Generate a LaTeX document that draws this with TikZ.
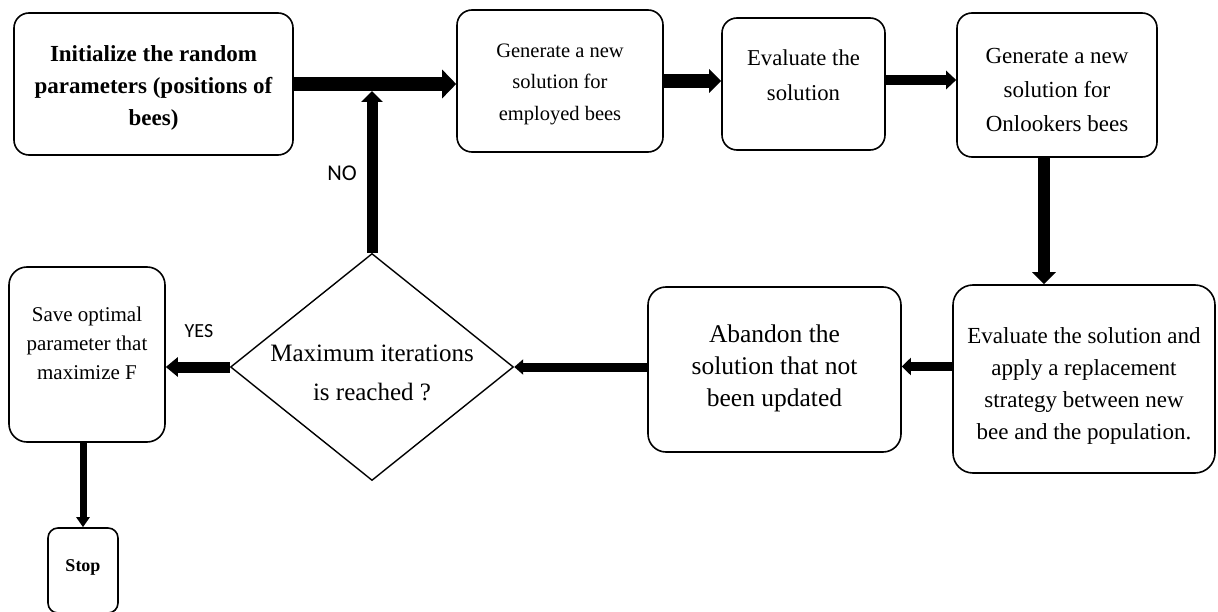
\documentclass[tikz,border=0pt]{standalone}
\usepackage{fontspec}
\setmainfont{Liberation Serif}
\newfontfamily\lblfont{Carlito}
\usetikzlibrary{arrows.meta,shapes.geometric,calc}
\begin{document}
\begin{tikzpicture}[x=1pt,y=-1pt,
  box/.style={draw, line width=1.6pt, rounded corners=15pt, inner sep=0pt},
  decbox/.style={draw, diamond, line width=1.4pt, inner sep=0pt},
  txt/.style={align=center, inner sep=0pt},
  conn/.style={draw, line width=#1},
  lbl/.style={font=\lblfont\fontsize{20}{24}\selectfont, inner sep=0pt}]
\useasboundingbox (0,0) rectangle (1218,612);
\clip (0,0) rectangle (1218,612);
\fill[white] (0,0) rectangle (1218,612);

% shapes
\node[box, minimum width=279pt, minimum height=142pt] (init) at (153.5,84) {};
\node[box, minimum width=206pt, minimum height=142pt] (gen1) at (560,81) {};
\node[box, minimum width=163pt, minimum height=132pt] (eval1) at (803.5,84) {};
\node[box, minimum width=200pt, minimum height=144pt] (gen2) at (1057,85) {};
\node[box, rounded corners=20pt, minimum width=262pt, minimum height=188pt] (eval2) at (1084,379) {};
\node[box, rounded corners=18pt, minimum width=253pt, minimum height=165pt] (aband) at (774.5,369.5) {};
\node[decbox, minimum width=283pt, minimum height=227pt] (dec) at (372,367) {};
\node[box, rounded corners=18pt, minimum width=156pt, minimum height=175pt] (save) at (87,354.5) {};
\node[box, rounded corners=10pt, minimum width=70pt, minimum height=85pt] (stop) at (83,570.5) {};

% texts
\node[txt, font=\bfseries\fontsize{23}{32}\selectfont] (init-t) at ($(init)+(0,4)$)
  {Initialize the random\\parameters (positions of\\bees)};
\node[txt, font=\fontsize{20.5}{31.5}\selectfont] (gen1-t) at ($(gen1)+(0,3)$)
  {Generate a new\\solution for\\employed bees};
\node[txt, font=\fontsize{22.7}{35}\selectfont] (eval1-t) at ($(eval1)+(0,-8.5)$)
  {Evaluate the\\solution};
\node[txt, font=\fontsize{23}{34}\selectfont] (gen2-t) at ($(gen2)+(0,5)$)
  {Generate a new\\solution for\\Onlookers bees};
\node[txt, font=\fontsize{23}{32}\selectfont] (eval2-t) at ($(eval2)+(0,7)$)
  {Evaluate the solution and\\apply a replacement\\strategy between new\\bee and the population.};
\node[txt, font=\fontsize{25.5}{32}\selectfont] (aband-t) at ($(aband)+(0,-1)$)
  {Abandon the\\solution that not\\been updated};
\node[txt, font=\fontsize{25}{39}\selectfont] (dec-t) at ($(dec)+(0,6)$)
  {Maximum iterations\\is reached ?};
\node[txt, font=\fontsize{21}{29}\selectfont] (save-t) at ($(save)+(0,-11)$)
  {Save optimal\\parameter that\\maximize F};
\node[txt, font=\bfseries\fontsize{18}{22}\selectfont] (stop-t) at ($(stop)+(0,-3)$)
  {Stop};

\node[lbl, font=\lblfont\fontsize{22.5}{26}\selectfont] (no) at (342,173) {NO};
\node[lbl] (yes) at (199,331) {YES};

% connectors
\draw[conn=14pt, -{Triangle[length=14pt,width=28pt]}]
  (init.east) -- (init.east -| gen1.west);
\coordinate (join) at ($(dec.north |- init.east)+(0,7)$);
\draw[conn=11pt, -{Triangle[length=11pt,width=21pt]}]
  (dec.north) -- (join);
\draw[conn=14pt, -{Triangle[length=12pt,width=23pt]}]
  (gen1.east) -- (gen1.east -| eval1.west);
\draw[conn=10pt, -{Triangle[length=10pt,width=18pt]}]
  ($(eval1.east)+(0,-4)$) -- ($(eval1.east -| gen2.west)+(0,-4)$);
\draw[conn=12pt, -{Triangle[length=12pt,width=23pt]}]
  (gen2.south -| 1044,0) -- (eval2.north -| 1044,0);
\draw[conn=9pt, -{Triangle[length=9pt,width=17pt]}]
  ($(eval2.west |- aband.east)+(0,-3)$) -- ($(aband.east)+(0,-3)$);
\draw[conn=9pt, -{Triangle[length=9pt,width=15pt]}]
  (aband.west |- dec.east) -- (dec.east);
\draw[conn=11pt, -{Triangle[length=12pt,width=19pt]}]
  (dec.west) -- (dec.west -| save.east);
\draw[conn=7pt, -{Triangle[length=10pt,width=13pt]}]
  (save.south -| stop.north) -- (stop.north);
\end{tikzpicture}
\end{document}
